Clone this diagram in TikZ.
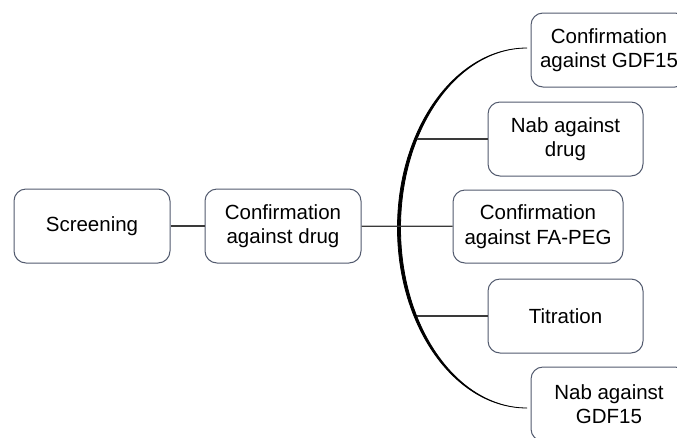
\documentclass[tikz,border=0pt]{standalone}
\usepackage{fontspec}
\setmainfont{Liberation Sans}
\usetikzlibrary{positioning}
\definecolor{boxline}{HTML}{525A6E}
\definecolor{wire}{HTML}{3A3A3A}
\tikzset{
    stage/.style={rectangle, rounded corners=12pt, draw=boxline, line width=1pt, fill=white, minimum width=156pt, minimum height=74pt, inner sep=2pt, align=center, text=black, font=\fontsize{20.5}{24.5}\selectfont},
    link/.style={draw=wire, line width=1.2pt},
    bracket/.style={fill=black, draw=black, line width=0.8pt}
}

\begin{document}
\begin{tikzpicture}[x=1pt, y=-1pt]
        	\useasboundingbox (0,0) rectangle (677,437);
        	\clip (0,0) rectangle (677,437);
        	% left chain
        	\node (screen) [stage] at (92,226) {Screening};
        	\node (confdrug) [stage, right=34pt of screen] {Confirmation\\against drug};
        	
        	% right column
        	\node (gdf) [stage] at (609,50) {Confirmation\\against GDF15};
        	\node (nabdrug) [stage, minimum width=155pt] at (565.5,139) {Nab against\\drug};
        	\node (fapeg) [stage, minimum width=170pt, minimum height=73pt] at (538,226.5) {Confirmation\\against FA-PEG};
        	\node (titr) [stage, minimum width=155pt] at (565.5,316) {Titration};
        	\node (nabgdf) [stage] at (609,404) {Nab against\\GDF15};
        	
        	% bracket
        	\coordinate (top) at (527,48);
        	\coordinate (hook2) at (417,139);
        	\coordinate (hook4) at (417,316);
        	\fill[bracket] (top) arc[start angle=270, end angle=90, x radius=129.5, y radius=180]
        		arc[start angle=90, end angle=270, x radius=126.5, y radius=180] -- cycle;
        	
        	\draw[link] (screen) -- (confdrug);
        	\draw[link] (confdrug) -- (fapeg);
        	\draw[link] (hook2) -- (nabdrug);
        	\draw[link] (hook4) -- (titr);
\end{tikzpicture}
\end{document}
